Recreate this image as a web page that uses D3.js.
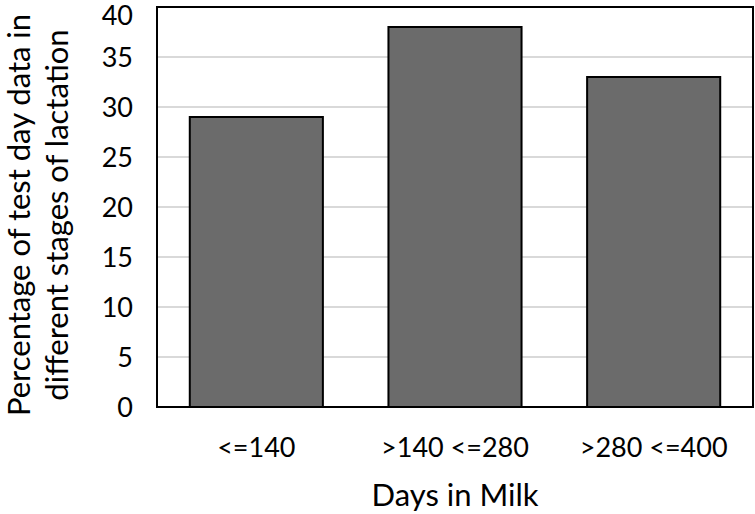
<!DOCTYPE html>
<html>
<head>
<meta charset="utf-8">
<script src="https://cdn.jsdelivr.net/npm/d3@7"></script>
<style>
  body { margin: 0; background: #fff; }
  text { font-family: Lato, "Open Sans", sans-serif; fill: #000; }
</style>
</head>
<body>
<div id="chart"></div>
<script>
const categories = ["<=140", ">140 <=280", ">280 <=400"];
const values = [29, 38, 33];
const yTicks = [0, 5, 10, 15, 20, 25, 30, 35, 40];

const W = 755, H = 514;
const margin = { top: 7, right: 2, bottom: 107, left: 157 };
const width = W - margin.left - margin.right;
const height = H - margin.top - margin.bottom;

const svg = d3.select("#chart").append("svg")
  .attr("width", W).attr("height", H);
const g = svg.append("g").attr("transform", `translate(${margin.left},${margin.top})`);

const x = d3.scaleBand().domain(categories).range([0, width]).paddingInner(0.33).paddingOuter(0.165);
const y = d3.scaleLinear().domain([0, 40]).range([height, 0]);

// gridlines
g.selectAll(".grid").data(yTicks.filter(d => d > 0 && d < 40)).enter()
  .append("line")
  .attr("x1", 0).attr("x2", width)
  .attr("y1", d => y(d)).attr("y2", d => y(d))
  .attr("stroke", "#d9d9d9").attr("stroke-width", 2);

// bars
g.selectAll(".bar").data(values).enter()
  .append("rect")
  .attr("x", (d, i) => x(categories[i]))
  .attr("y", d => y(d))
  .attr("width", x.bandwidth())
  .attr("height", d => height - y(d))
  .attr("fill", "#6b6b6b")
  .attr("stroke", "#000").attr("stroke-width", 2);

// plot border
g.append("rect").attr("width", width).attr("height", height)
  .attr("fill", "none").attr("stroke", "#000").attr("stroke-width", 2);

// y tick labels (top one nudged down so it isn't clipped)
g.selectAll(".ytick").data(yTicks).enter()
  .append("text")
  .attr("x", -24).attr("y", d => Math.max(y(d), 8))
  .attr("dy", "0.36em")
  .attr("text-anchor", "end")
  .style("font-size", "27px")
  .text(d => d);

// x labels
g.selectAll(".xtick").data(categories).enter()
  .append("text")
  .attr("x", d => x(d) + x.bandwidth() / 2)
  .attr("y", height + 40)
  .attr("dy", "0.36em")
  .attr("text-anchor", "middle")
  .style("font-size", "27px")
  .text(d => d);

// x title
svg.append("text")
  .attr("x", margin.left + width / 2).attr("y", 495)
  .attr("dy", "0.36em")
  .attr("text-anchor", "middle")
  .style("font-size", "31px")
  .text("Days in Milk");

// y title
const yt = svg.append("text")
  .attr("transform", "translate(0,215) rotate(-90)")
  .attr("text-anchor", "middle")
  .style("font-size", "31px");
yt.append("tspan").attr("x", 0).attr("y", 30).text("Percentage of test day data in");
yt.append("tspan").attr("x", 0).attr("y", 68).text("different stages of lactation");
</script>
</body>
</html>
